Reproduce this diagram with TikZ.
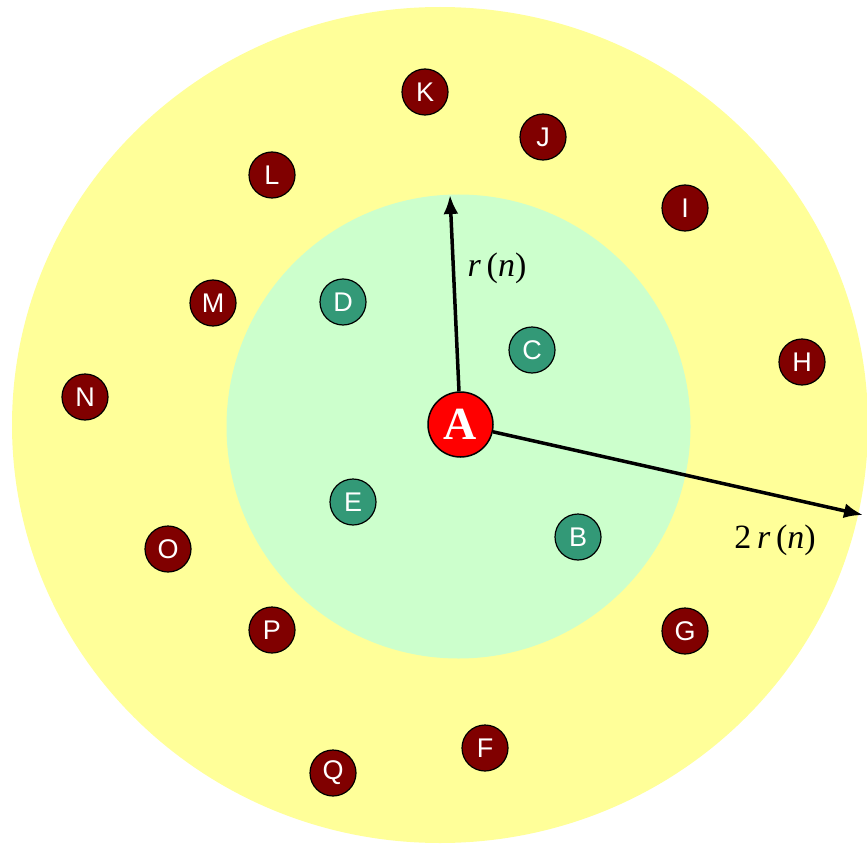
\documentclass[tikz,border=0pt]{standalone}
\usepackage{fontspec}
\setmainfont{Liberation Serif}
\newfontfamily\lettersf{Liberation Sans}
\usetikzlibrary{arrows.meta}
\definecolor{outerzone}{HTML}{FFFF99}
\definecolor{innerzone}{HTML}{CCFFCC}
\definecolor{farnode}{HTML}{800000}
\definecolor{nearnode}{HTML}{339977}
\tikzset{
  peer/.style={circle,draw=black,line width=1.2pt,minimum size=46pt,inner sep=0pt,
    text=white,font=\lettersf\fontsize{27}{27}\selectfont},
  far/.style={peer,fill=farnode},
  near/.style={peer,fill=nearnode},
  radius arrow/.style={-{Latex[length=19pt,width=15pt]},line width=3.5pt},
  radius label/.style={font=\fontsize{34}{34}\selectfont}
}
\begin{document}
\begin{tikzpicture}[x=1pt,y=-1pt]
\useasboundingbox (0,0) rectangle (867,845);
\clip (0,0) rectangle (867,845);
\fill[outerzone] (440,425) ellipse [x radius=428,y radius=418];
\fill[innerzone] (458.5,426.5) circle [radius=232];
\node[far] (K) at (425,92) {K};
\node[far] (J) at (543,137) {J};
\node[far] (L) at (272,175) {L};
\node[far] (I) at (685,208) {I};
\node[far] (M) at (213,303) {M};
\node[far] (H) at (802,362) {H};
\node[far] (N) at (85,397) {N};
\node[far] (O) at (168,549) {O};
\node[far] (P) at (272,630) {P};
\node[far] (G) at (685,631) {G};
\node[far] (F) at (485,748) {F};
\node[far] (Q) at (333,773) {Q};
\node[near] (D) at (343,302) {D};
\node[near] (C) at (532,350) {C};
\node[near] (E) at (353,502) {E};
\node[near] (B) at (578,537) {B};
\node[circle,draw=black,line width=1.5pt,fill=red,minimum size=65pt,inner sep=0pt,
  text=white,font=\bfseries\fontsize{46}{46}\selectfont] (A) at (460.5,424.5) {A};
\coordinate (rtip) at (450,195);
\coordinate (Rtip) at (863,515);
\draw[radius arrow] (A) -- (rtip);
\draw[radius arrow] (A) -- (Rtip);
\node[radius label] (rlab) at (497,268) {\textit{r}\,(\textit{n})};
\node[radius label] (Rlab) at (775,540) {2\,\textit{r}\,(\textit{n})};
\end{tikzpicture}
\end{document}
